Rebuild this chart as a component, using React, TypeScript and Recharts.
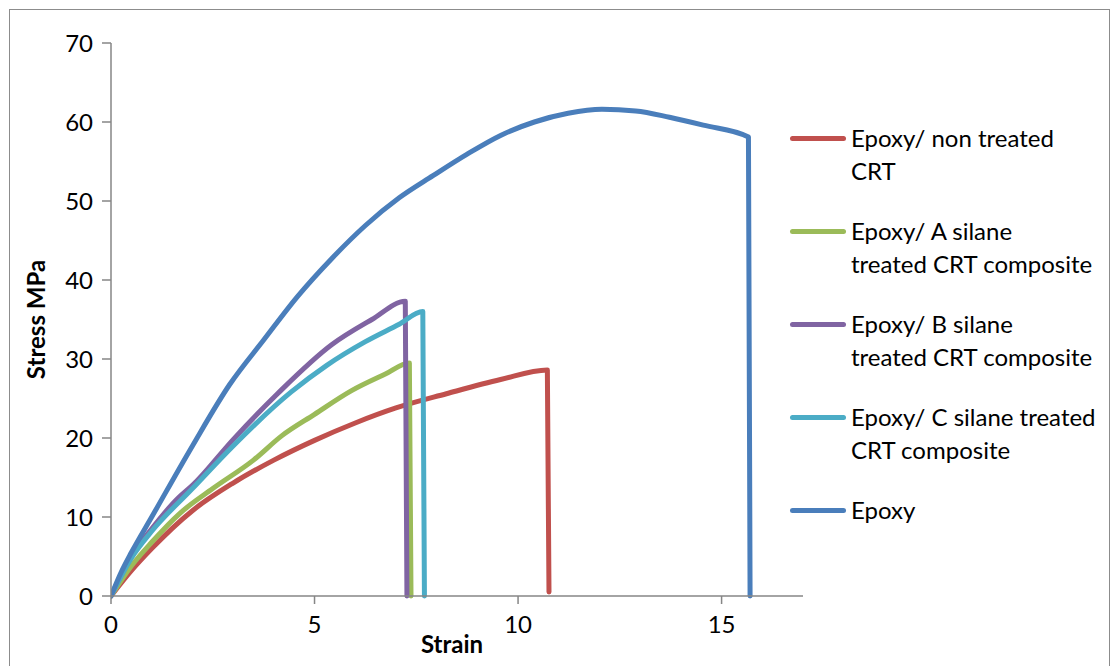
import React from 'react';
import { LineChart, Line, XAxis, YAxis } from 'recharts';

const seriesNames = [
  'Epoxy/ non treated CRT',
  'Epoxy/ A silane treated CRT composite',
  'Epoxy/ B silane treated CRT composite',
  'Epoxy/ C silane treated CRT composite',
  'Epoxy',
];
const legendLines = [
  ['Epoxy/ non treated', 'CRT'],
  ['Epoxy/ A silane', 'treated CRT composite'],
  ['Epoxy/ B silane', 'treated CRT composite'],
  ['Epoxy/ C silane treated', 'CRT composite'],
  ['Epoxy'],
];
const colors = ['#c0504d', '#9bbb59', '#8064a2', '#4bacc6', '#4a7ebb'];

const xTicks = [0, 5, 10, 15];
const yTicks = [0, 10, 20, 30, 40, 50, 60, 70];

const nonTreated = [
  { x: 0, y: 0 }, { x: 0.5, y: 3.2 }, { x: 1, y: 6 }, { x: 2, y: 10.8 }, { x: 3, y: 14.3 },
  { x: 4, y: 17.2 }, { x: 5, y: 19.7 }, { x: 6, y: 21.9 }, { x: 7, y: 23.8 }, { x: 8.24, y: 25.6 },
  { x: 9.57, y: 27.4 }, { x: 10.72, y: 28.6 }, { x: 10.76, y: 0.5 },
];
const aSilane = [
  { x: 0, y: 0 }, { x: 0.5, y: 3.8 }, { x: 1, y: 6.8 }, { x: 1.7, y: 10.5 }, { x: 2.5, y: 13.6 },
  { x: 3.5, y: 17.2 }, { x: 4.2, y: 20.3 }, { x: 5, y: 23 }, { x: 5.91, y: 26 }, { x: 6.74, y: 28.1 },
  { x: 7.33, y: 29.5 }, { x: 7.37, y: 0 },
];
const bSilane = [
  { x: 0, y: 0 }, { x: 0.5, y: 5 }, { x: 1, y: 8.5 }, { x: 1.65, y: 12.4 }, { x: 2, y: 14 },
  { x: 3, y: 19.8 }, { x: 4.09, y: 25.6 }, { x: 5.42, y: 31.8 }, { x: 6.41, y: 35 },
  { x: 7.23, y: 37.3 }, { x: 7.27, y: 0 },
];
const cSilane = [
  { x: 0, y: 0 }, { x: 0.5, y: 4.8 }, { x: 1, y: 8.2 }, { x: 2, y: 13.6 }, { x: 3, y: 19 },
  { x: 4.42, y: 25.8 }, { x: 5.3, y: 29.2 }, { x: 6.25, y: 32.2 }, { x: 7.08, y: 34.4 },
  { x: 7.66, y: 36 }, { x: 7.7, y: 0 },
];
const epoxy = [
  { x: 0, y: 0 }, { x: 0.25, y: 3 }, { x: 0.5, y: 5.5 }, { x: 1, y: 10 }, { x: 2, y: 19 },
  { x: 2.92, y: 26.8 }, { x: 3.75, y: 32.4 }, { x: 4.58, y: 37.9 }, { x: 5.42, y: 42.7 },
  { x: 6.25, y: 46.9 }, { x: 7.08, y: 50.4 }, { x: 7.91, y: 53.2 }, { x: 8.74, y: 55.9 },
  { x: 9.57, y: 58.3 }, { x: 10.4, y: 60 }, { x: 11.23, y: 61.1 }, { x: 12.06, y: 61.6 },
  { x: 12.89, y: 61.4 }, { x: 13.72, y: 60.6 }, { x: 14.55, y: 59.6 }, { x: 15.66, y: 58.1 },
  { x: 15.7, y: 0 },
];
const seriesData = [nonTreated, aSilane, bSilane, cSilane, epoxy];

const FONT = 'Lato, "Open Sans", sans-serif';

const LegendBlock = () => (
  <div style={{ position: 'absolute', left: 790, top: 121, fontFamily: FONT, fontSize: 24, color: '#000' }}>
    {legendLines.map((lines, i) => (
      <div key={i} style={{ position: 'absolute', left: 0, top: i * 93, whiteSpace: 'nowrap' }}>
        <div
          style={{
            position: 'absolute', left: 0, top: 14.5, width: 56, height: 5,
            borderRadius: 3, background: colors[i],
          }}
        />
        {lines.map((t, j) => (
          <div key={j} style={{ position: 'absolute', left: 61, top: j * 33, lineHeight: '33px' }}>{t}</div>
        ))}
      </div>
    ))}
  </div>
);

const YLabel = (props: any) => {
  const vb = props.viewBox;
  const cx = vb.x - 15;
  const cy = vb.y + vb.height / 2;
  return (
    <text x={cx} y={cy} transform={`rotate(-90 ${cx} ${cy})`} textAnchor="middle" dominantBaseline="central"
      fontFamily={FONT} fontWeight="bold" fontSize={24} fill="#000">Stress MPa</text>
  );
};

export default function App() {
  return (
    <div style={{ position: 'absolute', left: 0, top: 0, width: 1117, height: 666, background: '#fff', overflow: 'hidden' }}>
      <div style={{ position: 'absolute', left: 9, top: 9, width: 1101, height: 700, border: '1px solid #8c8c8c', boxSizing: 'border-box' }} />
      <LineChart width={1117} height={666} margin={{ top: 43, right: 314, bottom: 0, left: 50 }}>
        <XAxis
          type="number" dataKey="x" domain={[0, 17]} ticks={xTicks} allowDataOverflow
          height={70} tickSize={8} tickMargin={12}
          stroke="#868686" strokeWidth={1.5}
          tick={{ fill: '#000', fontSize: 24, fontFamily: FONT }}
          label={{ value: 'Strain', position: 'insideBottom', offset: 13, dx: -5, fill: '#000', fontSize: 24, fontWeight: 'bold', fontFamily: FONT }}
        />
        <YAxis
          type="number" domain={[0, 70]} ticks={yTicks} width={61}
          tickSize={9} tickMargin={9}
          stroke="#868686" strokeWidth={1.5}
          tick={{ fill: '#000', fontSize: 24, fontFamily: FONT }}
          label={<YLabel />}
        />
        {seriesData.map((d, i) => (
          <Line
            key={seriesNames[i]} name={seriesNames[i]} data={d} dataKey="y" type="monotone"
            stroke={colors[i]} strokeWidth={5} dot={false} activeDot={false}
            isAnimationActive={false} strokeLinecap="round" strokeLinejoin="round"
          />
        ))}
      </LineChart>
      <LegendBlock />
    </div>
  );
}
